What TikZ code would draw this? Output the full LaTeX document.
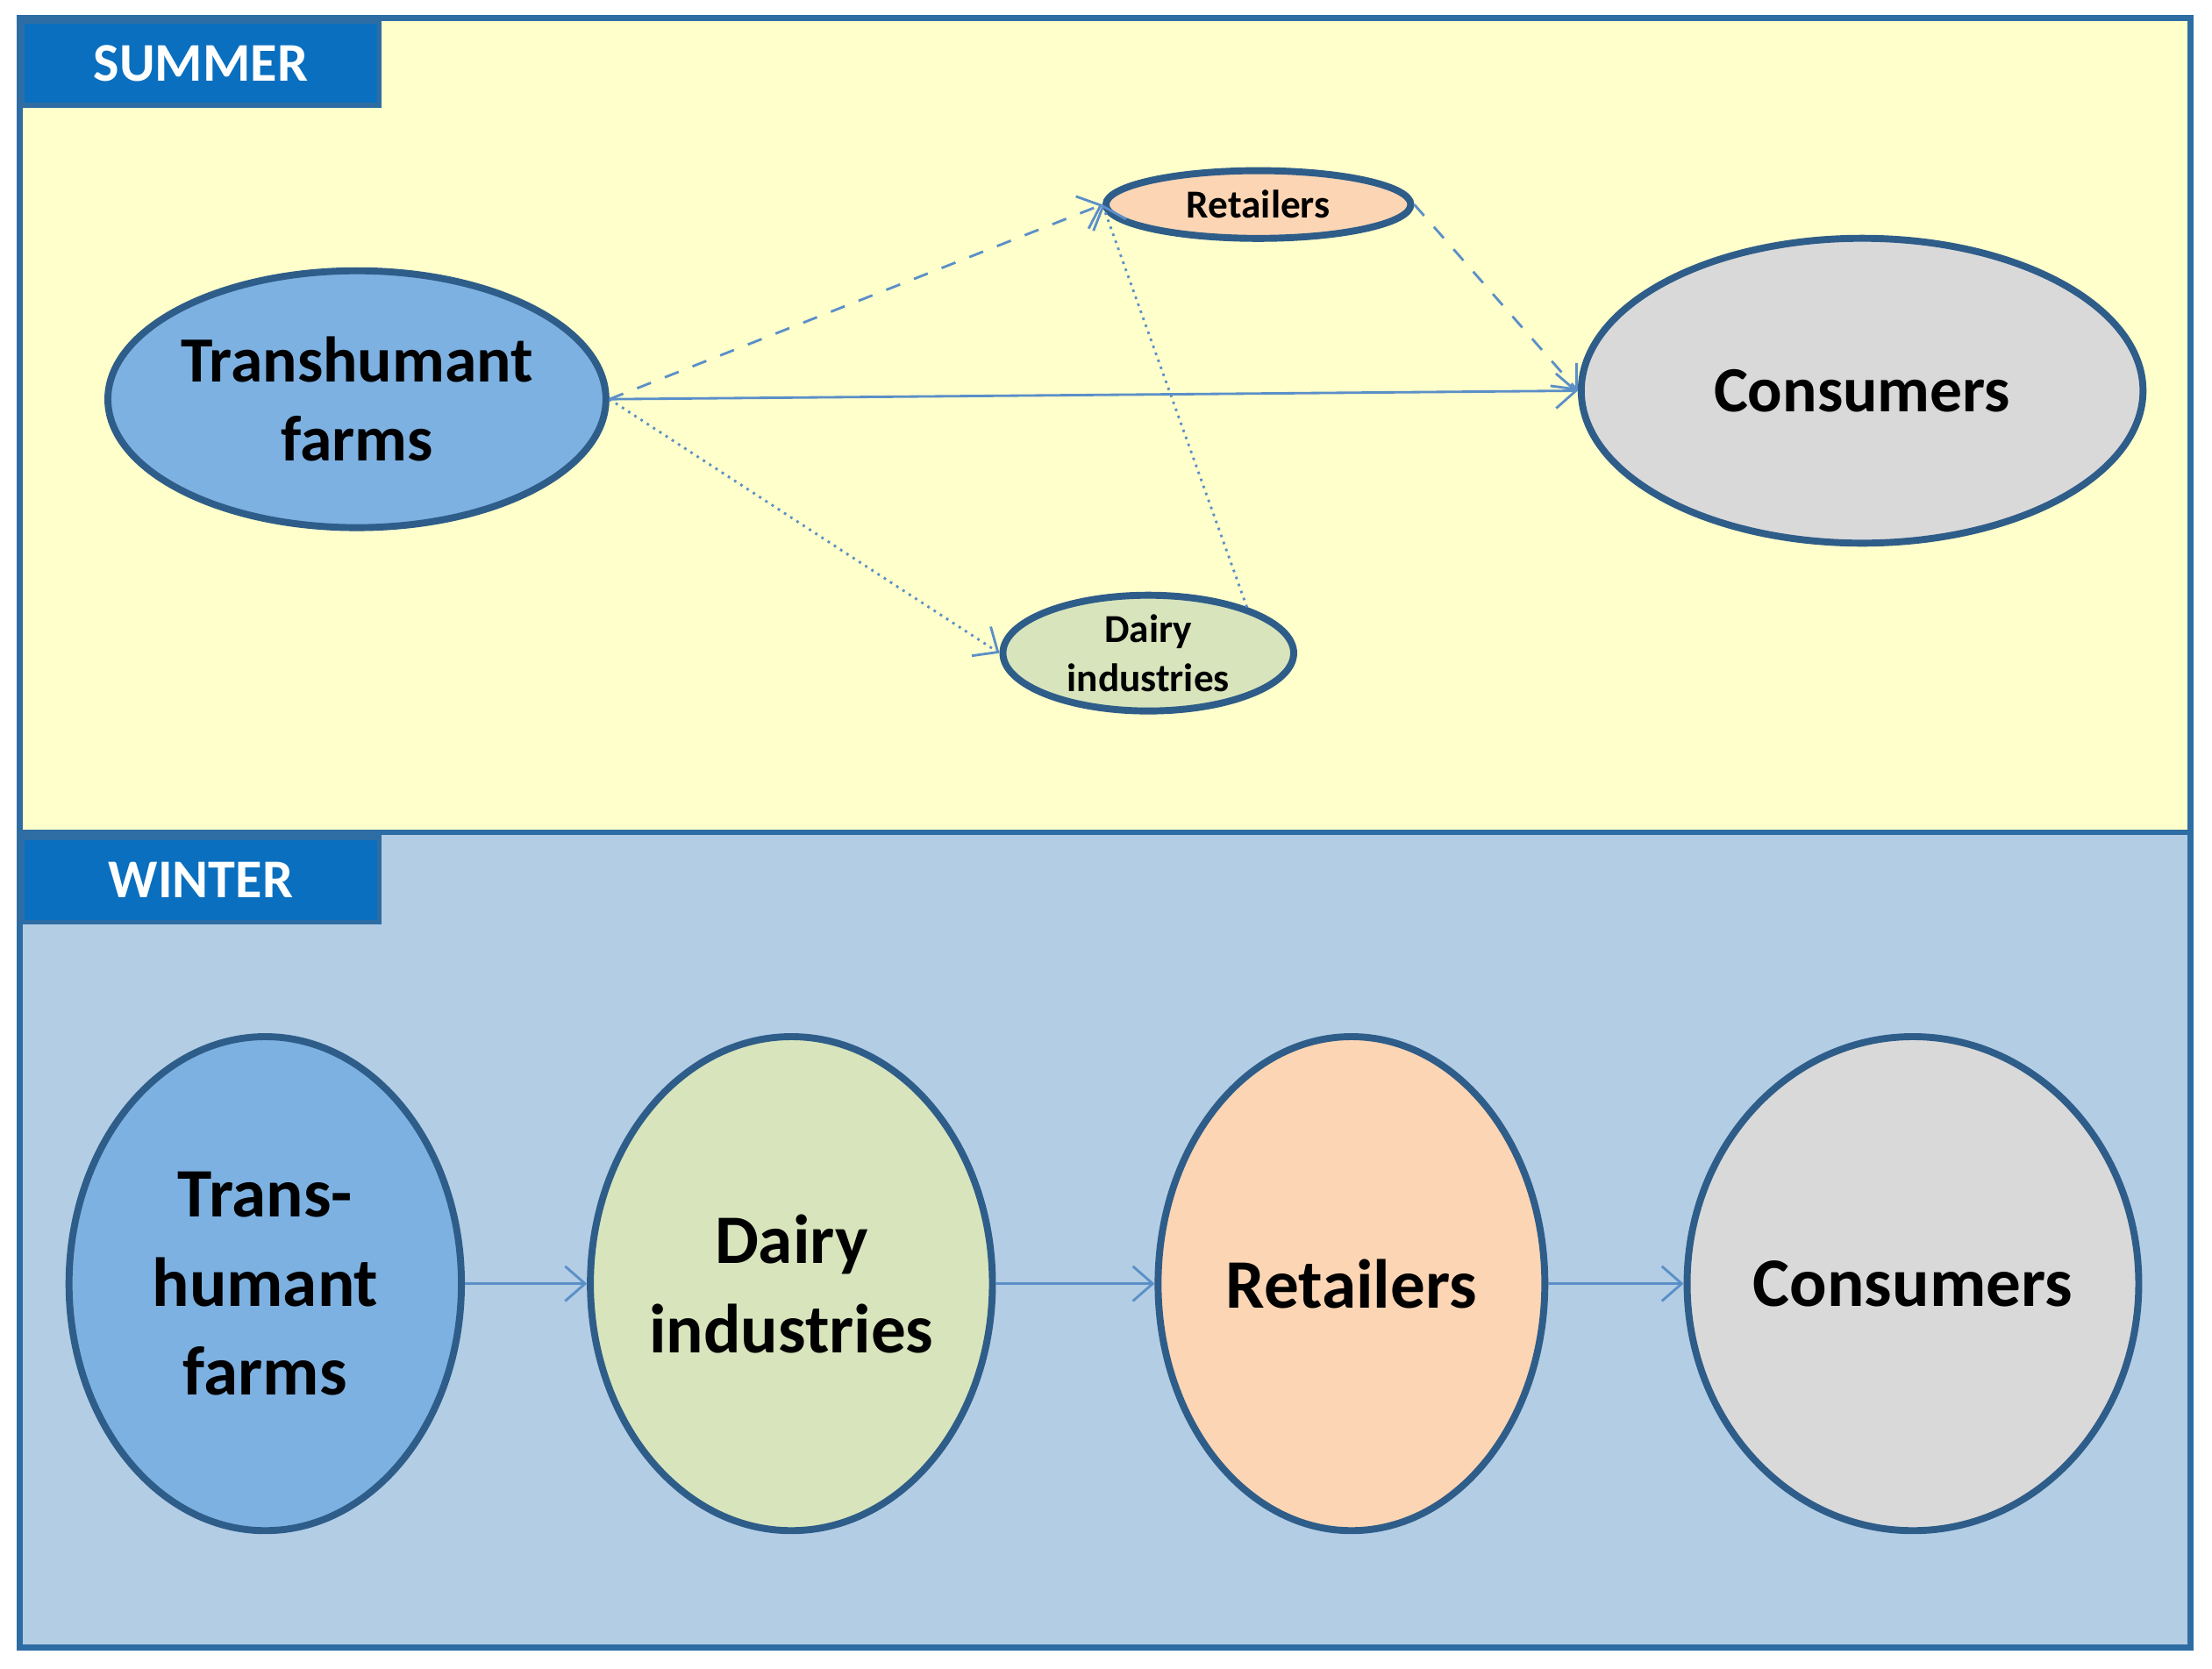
\documentclass[tikz,border=0pt]{standalone}
\usepackage{fontspec}
\setmainfont{Carlito}
\usetikzlibrary{shapes.geometric,arrows.meta}
\definecolor{frame}{HTML}{2E6DA4}
\definecolor{edge}{HTML}{2F5D8A}
\definecolor{conn}{HTML}{5B8FC7}
\definecolor{yel}{HTML}{FFFFCC}
\definecolor{wbg}{HTML}{B3CDE5}
\definecolor{tabc}{HTML}{0A6FBF}
\definecolor{farm}{HTML}{7DB1E1}
\definecolor{ret}{HTML}{FCD5B4}
\definecolor{con}{HTML}{D9D9D9}
\definecolor{dai}{HTML}{D7E4BC}
\tikzset{
 ell/.style={ellipse,draw=edge,line width=1.4pt,inner sep=0pt,align=center,font=\bfseries},
 tab/.style={fill=tabc,draw=frame,line width=1pt,text=white,font=\bfseries\fontsize{11}{12}\selectfont},
 conx/.style={draw=conn,line width=0.5pt,-{Straight Barb[length=4pt,width=7pt]}},
}
\begin{document}
\begin{tikzpicture}[x=0.01cm,y=-0.01cm]
\useasboundingbox (0,0) rectangle (1568,1183);
\fill[white] (0,0) rectangle (1568,1183);
\draw[frame,line width=1.2pt,fill=yel] (14,13) rectangle (1553,590);
\draw[frame,line width=1.2pt,fill=wbg] (14,590) rectangle (1553,1168);
\node[tab,minimum width=2.53cm,minimum height=0.6cm,anchor=north west] (ts) at (14,13) {SUMMER};
\node[tab,minimum width=2.53cm,minimum height=0.6cm,anchor=north west] (tw) at (14,592) {WINTER};
% summer
\node[ell,fill=farm,minimum width=3.38cm,minimum height=1.82cm,font=\bfseries\fontsize{13}{16}\selectfont] (sf) at (253,283) {Transhumant\\farms};
\node[ell,fill=ret,minimum width=2.16cm,minimum height=0.48cm,font=\bfseries\fontsize{8}{9}\selectfont] (sr) at (892,145) {Retailers};
\node[ell,fill=con,minimum width=3.98cm,minimum height=2.16cm,font=\bfseries\fontsize{13}{16}\selectfont] (sc) at (1320,277) {Consumers};
\node[ell,fill=dai,minimum width=2.06cm,minimum height=0.82cm,font=\bfseries\fontsize{8}{10}\selectfont] (sd) at (814,463) {Dairy\\industries};
\draw[conx,dashed] (sf.east) -- (sr.west);
\draw[conx] (sf.east) -- (sc.west);
\draw[conx,densely dotted] (sf.east) -- (sd.west);
\draw[conx,densely dotted] (sd.25) -- (sr.west);
\draw[conx,dashed] (sr.east) -- (sc.west);
% winter
\node[ell,fill=farm,minimum width=2.78cm,minimum height=3.5cm,font=\bfseries\fontsize{14}{18}\selectfont] (wf) at (188,910) {Trans-\\humant\\farms};
\node[ell,fill=dai,minimum width=2.74cm,minimum height=3.5cm,font=\bfseries\fontsize{14}{18}\selectfont] (wd) at (561,910) {Dairy\\industries};
\node[ell,fill=ret,minimum width=2.74cm,minimum height=3.5cm,font=\bfseries\fontsize{14}{18}\selectfont] (wr) at (958,910) {Retailers};
\node[ell,fill=con,minimum width=3.0cm,minimum height=3.5cm,font=\bfseries\fontsize{14}{18}\selectfont] (wc) at (1356,910) {Consumers};
\draw[conx] (wf) -- (wd);
\draw[conx] (wd) -- (wr);
\draw[conx] (wr) -- (wc);
\end{tikzpicture}
\end{document}
